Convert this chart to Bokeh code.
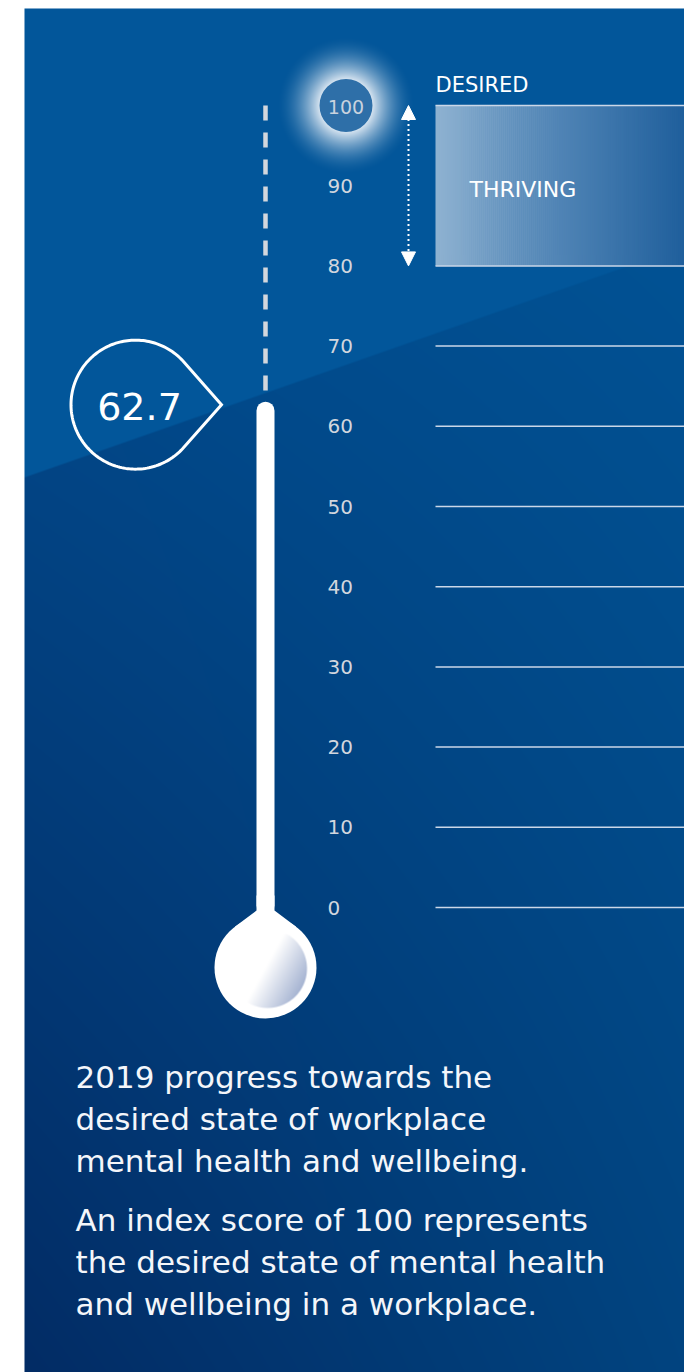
import numpy as np
from bokeh.plotting import figure
from bokeh.models import Range1d, Arrow, NormalHead
from bokeh.core.properties import value
from bokeh.embed import file_html
from bokeh.resources import INLINE

# ---------------- data ----------------
score = 62.7
score_text = "62.7"
scale_ticks = [0, 10, 20, 30, 40, 50, 60, 70, 80, 90, 100]
scale_tick_labels = ["0", "10", "20", "30", "40", "50", "60", "70", "80", "90", "100"]
band_lines = [0, 10, 20, 30, 40, 50, 60, 70, 80, 100]
thriving_low = 80
thriving_high = 100
thriving_label = "THRIVING"
desired_label = "DESIRED"
caption_lines_1 = ["2019 progress towards the",
                   "desired state of workplace",
                   "mental health and wellbeing."]
caption_lines_2 = ["An index score of 100 represents",
                   "the desired state of mental health",
                   "and wellbeing in a workplace."]

# ---------------- layout ----------------
W, H = 684, 1372
ZERO_PY = 907.0
PX_PER_UNIT = 8.02
FONT = value("DejaVu Sans")


def yv(py):
    return (ZERO_PY - py) / PX_PER_UNIT


def dy(px):
    return px / PX_PER_UNIT


def vpy(v):
    return ZERO_PY - v * PX_PER_UNIT


def to_rgba(col, alpha=None):
    h, w = col.shape[:2]
    img = np.empty((h, w), dtype=np.uint32)
    view = img.view(dtype=np.uint8).reshape((h, w, 4))
    for k in range(3):
        view[..., k] = np.clip(col[..., k], 0, 255).astype(np.uint8)
    if alpha is None:
        view[..., 3] = 255
    else:
        view[..., 3] = np.clip(alpha * 255, 0, 255).astype(np.uint8)
    return img[::-1]


p = figure(width=W, height=H, x_range=Range1d(0, W),
           y_range=Range1d(yv(H), yv(0)),
           output_backend="svg", toolbar_location=None, tools="",
           min_border=0, x_axis_type=None, y_axis_type=None)
p.grid.visible = False
p.outline_line_color = None
p.background_fill_color = "white"
p.border_fill_color = "white"

# ---------------- background panel (gradient + diagonal + glow) ----------------
bx0, bx1 = 24, W
by0, by1 = 8, H
X, Y = np.meshgrid(np.arange(bx0, bx1) + 0.5, np.arange(by0, by1) + 0.5)
top_col = np.array([2, 86, 154], float)
TL = np.array([2, 74, 140.])
TR = np.array([1, 82, 148.])
BL = np.array([3, 44, 101.])
BR = np.array([1, 68, 128.])
u = np.clip((X - 24) / 660, 0, 1)[..., None]
w = np.clip((Y - 250) / 1122, 0, 1)[..., None]
low = TL * (1 - u) * (1 - w) + TR * u * (1 - w) + BL * (1 - u) * w + BR * u * w
diag = 477 - 0.35 * (X - 24)
a = np.clip(Y - diag + 0.5, 0, 1)[..., None]
col = top_col * (1 - a) + low * a
Rg = np.hypot(X - 345.5, Y - vpy(100))
g = (0.93 * np.clip((70 - Rg) / 44, 0, 1) ** 1.8)[..., None]
col = col * (1 - g) + np.array([232, 240, 248.]) * g
p.image_rgba(image=[to_rgba(col)], x=bx0, y=yv(by1), dw=bx1 - bx0, dh=dy(by1 - by0))

# ---------------- thriving band (horizontal gradient strips) ----------------
n = 125
edges = np.linspace(435, W, n + 1)
mids = (edges[:-1] + edges[1:]) / 2
t = np.clip((mids - 435) / 249, 0, 1)
stops_t = [0, 0.5, 1]
stops_c = np.array([[143, 178, 209], [80, 132, 181], [31, 95, 156]], float)
cols = []
for tt in t:
    rgb = [np.interp(tt, stops_t, stops_c[:, k]) for k in range(3)]
    cols.append("#%02x%02x%02x" % tuple(int(round(c)) for c in rgb))
p.quad(left=edges[:-1], right=edges[1:] + 0.6, bottom=thriving_low, top=thriving_high,
       fill_color=cols, line_color=None)

# ---------------- band lines ----------------
p.segment(x0=[435] * len(band_lines), x1=[W] * len(band_lines),
          y0=band_lines, y1=band_lines, line_color="#cbd7e8", line_width=1.5)

# ---------------- thermometer ----------------
p.segment(x0=[265], y0=[100], x1=[265], y1=[score],
          line_color="#d3d7dd", line_width=4.5, line_dash="15 12")

# bulb
cx, cy, r = 265.0, 967.0, 51.0


def tangent(px_, py_, side):
    d = np.hypot(px_ - cx, py_ - cy)
    base = np.arctan2(py_ - cy, px_ - cx)
    off = np.arccos(r / d)
    ang = base + side * off
    return cx + r * np.cos(ang), cy + r * np.sin(ang)


tlx, tly = tangent(256, 910, -1)
trx, try_ = tangent(274, 910, 1)
neck_x = [256, 256, tlx, cx, trx, 274, 274]
neck_py = [895, 910, tly, cy, try_, 910, 895]
p.patch(neck_x, [yv(v) for v in neck_py], fill_color="white", line_color=None)
p.scatter(x=[cx], y=[yv(cy)], size=2 * r, marker="circle", fill_color="white", line_color=None)

# mercury column
p.segment(x0=[265], y0=[yv(905)], x1=[265], y1=[score - dy(6)],
          line_color="white", line_width=18, line_cap="round")

# bulb inner gradient
icx, icy, ir = 267.0, 968.0, 39.5
S = 84
GX, GY = np.meshgrid(np.arange(S) + icx - S / 2 + 0.5, np.arange(S) + icy - S / 2 + 0.5)
dist = np.hypot(GX - icx, GY - icy)
alpha = np.clip(ir - dist + 0.5, 0, 1)
s = ((GX - icx) * 0.88 + (GY - icy) * 0.48) / ir
tt = np.clip((s + 0.05) / 1.05, 0, 1)[..., None]
gcol = np.array([255, 255, 255.]) * (1 - tt) + np.array([166, 180, 210.]) * tt
p.image_rgba(image=[to_rgba(gcol, alpha)], x=icx - S / 2, y=yv(icy + S / 2), dw=S, dh=dy(S))

# ---------------- scale labels ----------------
lab_vals = [v for v in scale_ticks if v != 100]
lab_txt = [l for v, l in zip(scale_ticks, scale_tick_labels) if v != 100]
p.text(x=[327] * len(lab_vals), y=lab_vals, text=lab_txt, text_font=FONT,
       text_font_size="20px", text_color="#d2d6de", text_align="left",
       text_baseline="middle", y_offset=0)
p.scatter(x=[345.5], y=[100], size=53, marker="circle", fill_color="#2e6fa8", line_color=None)
p.text(x=[345.5], y=[100], text=[scale_tick_labels[-1]], text_font=FONT,
       text_font_size="19px", text_color="#c9d2de", text_align="center",
       text_baseline="middle", y_offset=1)

# ---------------- desired / thriving ----------------
p.add_layout(Arrow(x_start=408, y_start=thriving_low, x_end=408, y_end=thriving_high,
                   start=NormalHead(size=14, fill_color="white", line_color="white", line_width=1),
                   end=NormalHead(size=14, fill_color="white", line_color="white", line_width=1),
                   line_color="white", line_width=2, line_dash="2 3"))
p.text(x=[435], y=[thriving_high], text=[desired_label], text_font=FONT,
       text_font_size="21px", text_color="white", text_align="left",
       text_baseline="middle", y_offset=-21)
p.text(x=[469], y=[(thriving_low + thriving_high) / 2], text=[thriving_label], text_font=FONT,
       text_font_size="22px", text_color="white", text_align="left",
       text_baseline="middle", y_offset=4)

# ---------------- score callout ----------------
ccx, cr, tipx = 135.0, 64.5, 221.0
ccy = vpy(score)
half = np.arccos(cr / (tipx - ccx))
angs = np.linspace(half, 2 * np.pi - half, 160)
call_x = list(ccx + cr * np.cos(angs)) + [tipx]
call_y = [yv(v) for v in (ccy + cr * np.sin(angs))] + [score]
p.patch(call_x + [call_x[0]], call_y + [call_y[0]], fill_alpha=0, line_color="white",
        line_width=3, line_join="miter")
p.text(x=[139], y=[score], text=[score_text], text_font=FONT, text_font_size="38px",
       text_color="white", text_align="center", text_baseline="middle", y_offset=2)

# ---------------- captions ----------------
cap1_py = [1076, 1118, 1160]
cap2_py = [1219, 1261, 1303]
p.text(x=[75] * 3, y=[yv(v) for v in cap1_py], text=caption_lines_1, text_font=FONT,
       text_font_size="31px", text_color="#f4f6fa", text_align="left", text_baseline="middle")
p.text(x=[75] * 3, y=[yv(v) for v in cap2_py], text=caption_lines_2, text_font=FONT,
       text_font_size="31px", text_color="#f4f6fa", text_align="left", text_baseline="middle")

open("out.html", "w").write(file_html(p, INLINE))
